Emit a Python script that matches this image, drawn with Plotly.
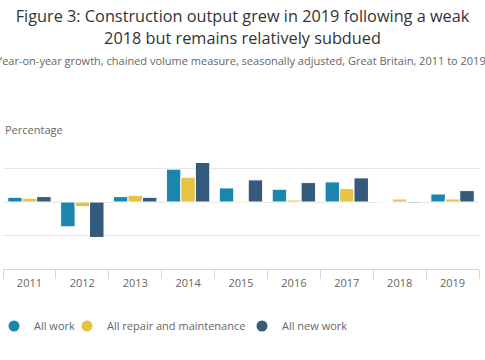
import plotly.graph_objects as go

years = ["2011", "2012", "2013", "2014", "2015", "2016", "2017", "2018", "2019"]
all_work = [0.7, -3.7, 0.8, 4.9, 2.1, 1.9, 3.0, 0.0, 1.2]
repair_maint = [0.55, -0.7, 1.0, 3.7, -0.15, 0.3, 2.0, 0.45, 0.45]
new_work = [0.8, -5.3, 0.7, 5.9, 3.3, 2.9, 3.6, -0.15, 1.7]

# (name, values, colour, legend id, legend left edge in px)
series = [
    ("All work", all_work, "#1a86ae", "legend", -6),
    ("All repair and maintenance", repair_maint, "#e8c243", "legend2", 67),
    ("All new work", new_work, "#345a7c", "legend3", 242),
]

W, H = 485, 360
ML, MR, MT, MB = 3, 6, 135, 91
PW = W - ML - MR
PH = H - MT - MB

FONT = "Open Sans"
fig = go.Figure()
for name, vals, col, lg, lx in series:
    fig.add_trace(go.Bar(
        x=years, y=vals, name=name, marker_color=col,
        marker_line_color="white", marker_line_width=1,
        showlegend=False,
    ))
for name, vals, col, lg, lx in series:
    fig.add_trace(go.Scatter(
        x=[None], y=[None], mode="markers", name=name, legend=lg,
        marker=dict(symbol="circle", size=11, color=col),
    ))

def legend_at(px):
    return dict(
        orientation="h", xref="paper", x=(px - ML) / PW, xanchor="left",
        yref="paper", y=((H - MB) - 326) / PH, yanchor="middle",
        font=dict(family=FONT, size=11, color="#666666"),
        itemclick=False, itemdoubleclick=False, bgcolor="rgba(0,0,0,0)",
    )

fig.update_layout(
    width=W, height=H,
    margin=dict(l=ML, r=MR, t=MT, b=MB, autoexpand=False),
    paper_bgcolor="white", plot_bgcolor="white",
    barmode="group", bargap=0.18, bargroupgap=0,
    font=dict(family=FONT, color="#666666", size=12),
    title=dict(
        text="Figure 3: Construction output grew in 2019 following a weak<br>2018 but remains relatively subdued",
        x=0.5, xanchor="center", y=0.938, yanchor="top",
        font=dict(family=FONT, size=16.3, color="#333333"),
    ),
    xaxis=dict(
        type="category", range=[-0.5, 8.5],
        showline=True, linecolor="#ccd6eb", linewidth=1,
        ticks="outside", tickson="boundaries", ticklen=9, tickcolor="#ccd6eb",
        ticklabelstandoff=4,
        tickfont=dict(size=11, color="#666666"),
        showgrid=False, fixedrange=True,
    ),
    yaxis=dict(
        range=[-10, 10], dtick=5, showticklabels=False,
        showgrid=True, gridcolor="#e6e6e6", gridwidth=1,
        zeroline=True, zerolinecolor="#e6e6e6", zerolinewidth=1,
        fixedrange=True,
    ),
    legend=legend_at(series[0][4]),
    legend2=legend_at(series[1][4]),
    legend3=legend_at(series[2][4]),
    annotations=[
        dict(text="Year-on-year growth, chained volume measure, seasonally adjusted, Great Britain, 2011 to 2019",
             xref="paper", yref="paper", x=0.5, xanchor="center",
             y=1 + (MT - 60) / PH, yanchor="middle",
             showarrow=False, font=dict(size=11, color="#666666")),
        dict(text="Percentage", xref="paper", yref="paper", x=0.0, xanchor="left",
             y=1 + 6 / PH, yanchor="middle", showarrow=False,
             font=dict(size=11, color="#666666")),
    ],
)

fig.write_html("out.html", config={"displayModeBar": False},
               post_script="document.body.style.margin='0';")
